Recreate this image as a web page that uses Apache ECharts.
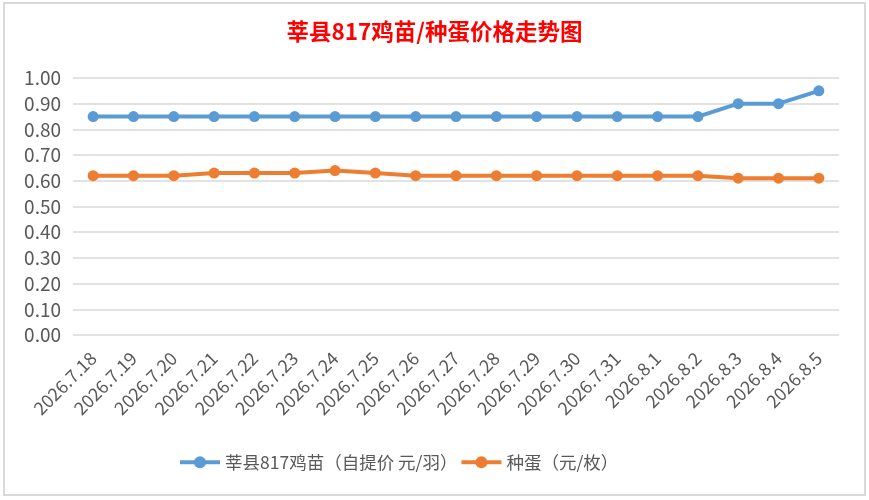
<!DOCTYPE html>
<html>
<head>
<meta charset="utf-8">
<script src="https://cdn.jsdelivr.net/npm/echarts@6/dist/echarts.min.js"></script>
<style>
html, body { margin: 0; padding: 0; background: #fff; }
#chart0 { width: 869px; height: 500px; }
</style>
</head>
<body>
<div id="chart0"></div>
<script>
'use strict';

// chart data
var dates = ['2026.7.18', '2026.7.19', '2026.7.20', '2026.7.21', '2026.7.22', '2026.7.23',
	'2026.7.24', '2026.7.25', '2026.7.26', '2026.7.27', '2026.7.28', '2026.7.29',
	'2026.7.30', '2026.7.31', '2026.8.1', '2026.8.2', '2026.8.3', '2026.8.4', '2026.8.5'];
var chick_price = [0.85, 0.85, 0.85, 0.85, 0.85, 0.85, 0.85, 0.85, 0.85, 0.85,
	0.85, 0.85, 0.85, 0.85, 0.85, 0.85, 0.90, 0.90, 0.95];
var egg_price = [0.62, 0.62, 0.62, 0.63, 0.63, 0.63, 0.64, 0.63, 0.62, 0.62,
	0.62, 0.62, 0.62, 0.62, 0.62, 0.62, 0.61, 0.61, 0.61];
var series_names = ['莘县817鸡苗（自提价 元/羽）', '种蛋（元/枚）'];
var chart_title = '莘县817鸡苗/种蛋价格走势图';

var chart0 = echarts.init(document.getElementById('chart0'));
var label_font = '"Liberation Sans Narrow", "Noto Sans CJK SC", sans-serif';

function make_series(name, data, color) {
	return {
		name : name,
		type : 'line',
		data : data,
		symbol : 'circle',
		symbolSize : 11,
		lineStyle : { width : 4, color : color },
		itemStyle : { color : color },
		emphasis : { disabled : true }
	};
}

chart0.setOption({
	animation : false,
	backgroundColor : '#ffffff',
	title : {
		text : chart_title,
		left : 'center',
		top : 15,
		textStyle : {
			color : '#ff0000',
			fontSize : 22.5,
			fontWeight : 'bold',
			fontFamily : '"Noto Sans CJK SC", sans-serif'
		}
	},
	graphic : [ {
		type : 'rect',
		shape : { x : 4, y : 3, width : 861, height : 492 },
		style : { fill : 'none', stroke : '#d9d9d9', lineWidth : 2 },
		silent : true
	} ],
	legend : {
		data : series_names,
		bottom : 24,
		left : 173,
		itemWidth : 40,
		itemHeight : 15,
		itemGap : 2,
		lineStyle : { width : 'inherit' },
		textStyle : {
			color : '#595959',
			fontSize : 17.5,
			fontFamily : '"Noto Sans CJK SC", sans-serif'
		}
	},
	grid : {
		left : 73,
		right : 30,
		top : 78,
		bottom : 165,
		containLabel : false
	},
	xAxis : {
		type : 'category',
		data : dates,
		boundaryGap : true,
		axisLine : { show : false },
		axisTick : { show : false },
		axisLabel : {
			rotate : 45,
			interval : 0,
			color : '#595959',
			fontSize : 18,
			fontFamily : label_font,
			margin : 20
		}
	},
	yAxis : {
		type : 'value',
		min : 0,
		max : 1,
		interval : 0.1,
		axisLine : { show : false },
		axisTick : { show : false },
		axisLabel : {
			color : '#595959',
			fontSize : 19,
			fontFamily : label_font,
			margin : 12,
			formatter : function(v) { return v.toFixed(2); }
		},
		splitLine : { lineStyle : { color : '#d9d9d9', width : 1.5 } }
	},
	series : [
		make_series(series_names[0], chick_price, '#5b9bd5'),
		make_series(series_names[1], egg_price, '#ed7d31')
	]
});
</script>
</body>
</html>
